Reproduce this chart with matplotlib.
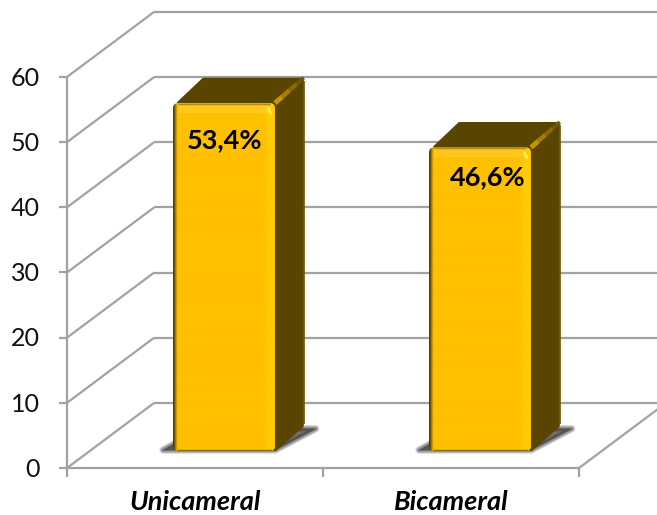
import numpy as np
import matplotlib
matplotlib.use('Agg')
import matplotlib.pyplot as plt
from matplotlib.patches import FancyBboxPatch, Polygon

categories = ['Unicameral', 'Bicameral']
values = [53.4, 46.6]
y_ticks = [0, 10, 20, 30, 40, 50, 60]

plt.rcParams['font.family'] = ['Lato', 'DejaVu Sans']

# scale of the front plane in pixels, the axes fill the whole figure
px_x = 256.0
px_y = 6.517
x0, y0 = 67.0, 468.0
DX, DY = 87.0 / px_x, 65.0 / px_y     # depth vector of the 3D box
GRID = '#a2a2a2'
FACE = '#ffc000'
DARK = '#5a4500'

# where the value labels sit relative to the bar's top front corner
label_dx = [7 / px_x, 14 / px_x]
label_dy = [37 / px_y, 30 / px_y]


def proj(x, v, d=0.0):
    return x + d * DX, v + d * DY


fig = plt.figure(figsize=(6.57, 5.15), dpi=100)
ax = fig.add_axes([0, 0, 1, 1])
xlim = (-x0 / px_x, (657 - x0) / px_x)
ylim = ((y0 - 515) / px_y, y0 / px_y)
ax.axis('off')


def line(a, b, **kw):
    kw.setdefault('color', GRID)
    kw.setdefault('lw', 1.6)
    ax.plot([a[0], b[0]], [a[1], b[1]], solid_capstyle='butt', **kw)


n = len(categories)
top = y_ticks[-1]

# back wall and left wall lines
for t in y_ticks:
    line(proj(0, t, 0), proj(0, t, 1))
    line(proj(0, t, 1), proj(n + 1, t, 1), zorder=1)
    line((-0.03, t), (0, t))
    ax.text(-0.105, t - 0.2, str(t), ha='right', va='center', fontsize=18, color='#111111')

# floor and axes
line(proj(0, 0), proj(0, top))
line(proj(0, 0), proj(n, 0))
line(proj(n, 0, 0), proj(n, 0, 1))
for i in range(n + 1):
    line((i, 0), (i, -1.4))

# shading of the front face: dark left edge, light right edge
H, W = 300, 102
img = np.ones((H, W, 3)) * np.array(matplotlib.colors.to_rgb(FACE))
xs = np.arange(W)
shade = np.clip(0.3 + xs / 6.0, 0.3, 1.0)
img *= shade[None, :, None]
light = np.clip((xs - (W - 12)) / 5.0, 0, 1) * np.clip((W - xs) / 3.0, 0, 1)
img[:, :, 1] += light * 0.05
img[:, :, 2] += light * 0.02
img = np.clip(img, 0, 1)

d0 = 0.26
bar_w = 102 / px_x
for i, (cat, v) in enumerate(zip(categories, values)):
    xc = i + 0.5 + 0.025
    l, b = proj(xc - bar_w / 2, 0, d0)
    r = l + bar_w
    t = b + v
    ddx, ddy = 0.33 * DX, 0.39 * DY

    # soft shadow on the floor, built up from widening outlines
    sh = [(l - 10 / px_x, b + 1 / px_y), (r, b + 1 / px_y),
          (r + ddx + 12 / px_x, b + ddy - 3 / px_y), (l + ddx, b + ddy - 3 / px_y)]
    for lw in np.arange(0.5, 6, 0.7):
        ax.add_patch(Polygon(sh, closed=True, facecolor='#353535', edgecolor='#353535',
                             alpha=0.12, lw=lw, joinstyle='round', zorder=2))

    # side and top faces, thick round joins give the soft corners
    inset_x, inset_y = 2 / px_x, 2 / px_y
    ax.add_patch(Polygon([(r, b + inset_y), (r + ddx - inset_x, b + ddy), (r + ddx - inset_x, t + ddy - inset_y),
                          (r, t)], closed=True, facecolor=DARK, edgecolor=DARK, lw=3,
                         joinstyle='round', zorder=3))
    ax.add_patch(Polygon([(l + 3 * inset_x, t), (r, t), (r + ddx - inset_x, t + ddy - inset_y),
                          (l + ddx + inset_x, t + ddy - inset_y)], closed=True, facecolor=DARK, edgecolor=DARK,
                         lw=3, joinstyle='round', zorder=3))

    # gold bevel along the diagonal edge, fading towards the back
    for f0, f1, col, w in [(0.0, 0.25, '#c49500', 3.5), (0.25, 0.5, '#a67e00', 3.2),
                           (0.5, 0.75, '#8a6a00', 3.0), (0.75, 1.0, '#725700', 2.6)]:
        line((r + f0 * ddx, t + f0 * ddy), (r + f1 * ddx, t + f1 * ddy), color=col, lw=w, zorder=4)
    line((r + ddx, t + ddy - 0.5), (r + ddx, b + ddy + 0.3), color='#6f5500', lw=1.2, zorder=4)

    # front face with rounded corners
    aspect = px_x / px_y
    rect = FancyBboxPatch((l, b), bar_w, v, boxstyle='round,pad=0,rounding_size=0.02',
                          mutation_aspect=aspect, facecolor='none', edgecolor='none', zorder=5)
    ax.add_patch(rect)
    im = ax.imshow(img, extent=(l, r, b, t), aspect='auto', zorder=5, interpolation='bilinear')
    im.set_clip_path(rect)

    # lighter band under the top edge and the small specular spot
    ax.fill_between([l + 5 / px_x, r - 4 / px_x], t - 1.5, t - 0.3, color='#ffc81a', lw=0, zorder=6)
    line((l + 5 / px_x, t - 0.1), (r - 5 / px_x, t - 0.1), color='#b48a10', lw=1, zorder=7)
    line((r - 7 / px_x, t - 0.7), (r - 4 / px_x, t - 1.7), color='#fff04d', lw=2, zorder=7)
    line((l + 4 / px_x, b + 0.1), (r - 3 / px_x, b + 0.1), color='#8a6d10', lw=1, zorder=7)

    ax.text(l + bar_w / 2 + label_dx[i] - 6 / px_x, t - label_dy[i], f'{v:.1f}%'.replace('.', ','),
            ha='center', va='center', fontsize=19.5, fontweight='bold', color='black', zorder=8)
    ax.text(i + 0.5, -5.25, cat, ha='center', va='center', fontsize=19.5,
            fontweight='bold', fontstyle='italic', color='black')

ax.set_xlim(*xlim)
ax.set_ylim(*ylim)
fig.savefig('out.png', dpi=100)
